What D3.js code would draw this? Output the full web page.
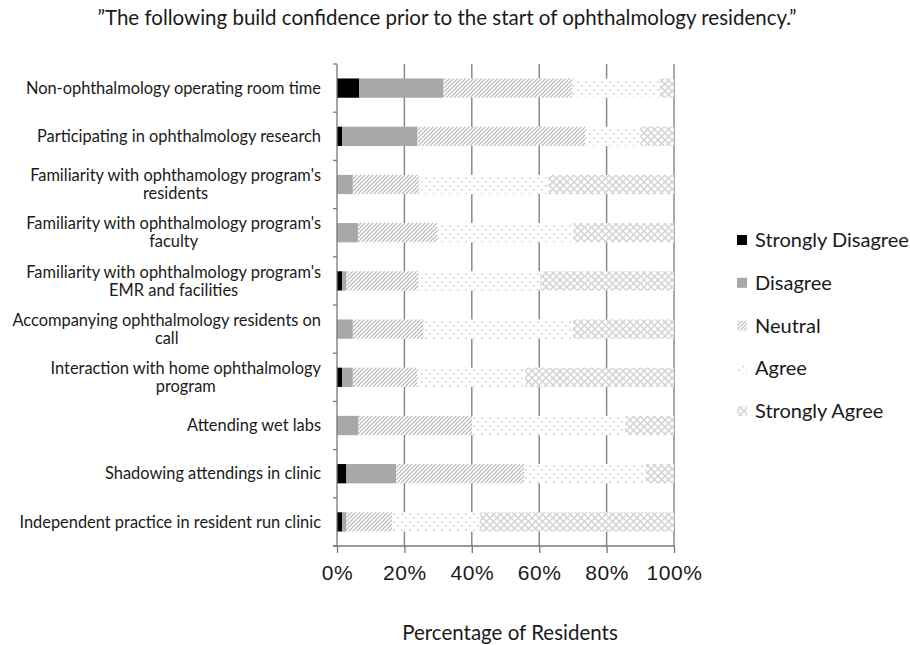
<!DOCTYPE html>
<html>
<head>
<meta charset="utf-8">
<script src="https://cdn.jsdelivr.net/npm/d3@7"></script>
<style>
  body { margin: 0; background: #fff; }
  svg { display: block; }
</style>
</head>
<body>
<div id="chart"></div>
<script>
const categories = [
    "Non-ophthalmology operating room time",
    "Participating in ophthalmology research",
    "Familiarity with ophthamology program's|residents",
    "Familiarity with ophthalmology program's|faculty",
    "Familiarity with ophthalmology program's|EMR and facilities",
    "Accompanying ophthalmology residents on|call",
    "Interaction with home ophthalmology|program",
    "Attending wet labs",
    "Shadowing attendings in clinic",
    "Independent practice in resident run clinic"
];
const responses = ["Strongly Disagree", "Disagree", "Neutral", "Agree", "Strongly Agree"];
const strongDisagree = [6.6, 1.5, 0, 0, 1.5, 0, 1.5, 0, 2.8, 1.5];
const disagree = [25.0, 22.4, 4.7, 6.2, 1.3, 4.7, 3.2, 6.4, 14.7, 1.3];
const neutral = [38.3, 49.7, 19.8, 23.6, 21.4, 21.0, 19.2, 33.6, 38.1, 13.5];
const agree = [25.9, 16.4, 38.2, 40.4, 36.1, 44.3, 31.9, 45.5, 36.1, 26.0];
const strongAgree = [4.2, 10.0, 37.3, 29.8, 39.7, 30.0, 44.2, 14.5, 8.3, 57.7];
const xTicks = [0, 20, 40, 60, 80, 100];

document.addEventListener('DOMContentLoaded', () => {
    const width = 910;
    const height = 645;
    const labelFont = 'Lato, "Open Sans", sans-serif';

    const svg = d3.select('#chart')
        .append('svg')
        .attr('width', width)
        .attr('height', height);

    // fill patterns
    const defs = svg.append('defs');

    const hatch = defs.append('pattern')
        .attr('id', 'neutral')
        .attr('patternUnits', 'userSpaceOnUse')
        .attr('width', 4)
        .attr('height', 4);
    hatch.append('rect').attr('width', 4).attr('height', 4).attr('fill', '#fff');
    hatch.append('path')
        .attr('d', 'M-1,1 l2,-2 M0,4 l4,-4 M3,5 l2,-2')
        .attr('stroke', '#b4b4b4')
        .attr('stroke-width', 1.1);

    const dots = defs.append('pattern')
        .attr('id', 'agree')
        .attr('patternUnits', 'userSpaceOnUse')
        .attr('width', 8)
        .attr('height', 8);
    dots.append('rect').attr('width', 8).attr('height', 8).attr('fill', '#fff');
    dots.append('circle').attr('cx', 2).attr('cy', 2).attr('r', 1).attr('fill', '#cfcfcf');
    dots.append('circle').attr('cx', 6).attr('cy', 6).attr('r', 1).attr('fill', '#cfcfcf');

    const cross = defs.append('pattern')
        .attr('id', 'strongAgree')
        .attr('patternUnits', 'userSpaceOnUse')
        .attr('width', 7)
        .attr('height', 7);
    cross.append('rect').attr('width', 7).attr('height', 7).attr('fill', '#fff');
    cross.append('path')
        .attr('d', 'M0,0 L7,7 M7,0 L0,7')
        .attr('stroke', '#d0d0d0')
        .attr('stroke-width', 1.3);

    const fills = {
        "Strongly Disagree": '#000',
        "Disagree": '#a8a8a8',
        "Neutral": 'url(#neutral)',
        "Agree": 'url(#agree)',
        "Strongly Agree": 'url(#strongAgree)'
    };

    const x = d3.scaleLinear()
        .domain([0, 100])
        .range([337, 674]);

    const y = d3.scaleBand()
        .domain(categories)
        .range([64, 546])
        .paddingInner(0.6)
        .paddingOuter(0.3);

    // title
    svg.append('text')
        .attr('x', 447)
        .attr('y', 25)
        .attr('text-anchor', 'middle')
        .style('font-family', labelFont)
        .style('font-size', '20.5px')
        .style('fill', '#1a1a1a')
        .text('\u201DThe following build confidence prior to the start of ophthalmology residency.\u201D');

    // gridlines
    svg.append('g')
        .selectAll('line')
        .data(xTicks.slice(1))
        .enter()
        .append('line')
        .attr('x1', d => x(d))
        .attr('x2', d => x(d))
        .attr('y1', 64)
        .attr('y2', 546)
        .attr('stroke', '#8a8a8a')
        .attr('stroke-width', 1.5);

    const rows = categories.map((c, i) => ({
        category: c,
        "Strongly Disagree": strongDisagree[i],
        "Disagree": disagree[i],
        "Neutral": neutral[i],
        "Agree": agree[i],
        "Strongly Agree": strongAgree[i]
    }));

    const series = d3.stack().keys(responses)(rows);

    svg.append('g')
        .selectAll('g')
        .data(series)
        .enter()
        .append('g')
        .attr('fill', d => fills[d.key])
        .selectAll('rect')
        .data(d => d)
        .enter()
        .append('rect')
        .attr('x', d => x(d[0]))
        .attr('y', d => y(d.data.category))
        .attr('width', d => x(d[1]) - x(d[0]))
        .attr('height', y.bandwidth());

    // left axis with ticks between categories
    const boundaries = d3.range(categories.length + 1).map(i => y.range()[0] + i * y.step());
    const leftAxis = svg.append('g').attr('stroke', '#777').attr('stroke-width', 1.3);
    leftAxis.append('line')
        .attr('x1', 337).attr('x2', 337)
        .attr('y1', 64).attr('y2', 546);
    leftAxis.selectAll('.tick')
        .data(boundaries)
        .enter()
        .append('line')
        .attr('x1', 333).attr('x2', 337)
        .attr('y1', d => d).attr('y2', d => d);

    // category labels, two-line ones centered under the first line
    const labels = svg.append('g')
        .style('font-family', labelFont)
        .style('font-size', '16.4px')
        .style('fill', '#1a1a1a');

    categories.forEach(c => {
        const lines = c.split('|');
        const cy = y(c) + y.bandwidth() / 2;
        if (lines.length === 1) {
            labels.append('text')
                .attr('x', 321)
                .attr('y', cy)
                .attr('dy', '0.35em')
                .attr('text-anchor', 'end')
                .text(lines[0]);
        } else {
            const first = labels.append('text')
                .attr('x', 321)
                .attr('y', cy - 9)
                .attr('dy', '0.35em')
                .attr('text-anchor', 'end')
                .text(lines[0]);
            const w = first.node().getComputedTextLength();
            labels.append('text')
                .attr('x', 321 - w / 2)
                .attr('y', cy + 9)
                .attr('dy', '0.35em')
                .attr('text-anchor', 'middle')
                .text(lines[1]);
        }
    });

    // bottom axis
    const xAxis = svg.append('g')
        .attr('transform', 'translate(0,546)')
        .call(d3.axisBottom(x)
            .tickValues(xTicks)
            .tickSize(7)
            .tickPadding(12)
            .tickFormat(d => d + '%'));
    xAxis.select('.domain').remove();
    xAxis.append('line')
        .attr('x1', 333).attr('x2', 674)
        .attr('stroke', '#777').attr('stroke-width', 1.3);
    xAxis.selectAll('.tick line').attr('stroke', '#777').attr('stroke-width', 1.3);
    xAxis.selectAll('.tick text')
        .style('font-family', '"Liberation Sans", Arial, sans-serif')
        .style('font-size', '21px')
        .style('letter-spacing', '0.6px')
        .style('fill', '#1a1a1a');

    svg.append('text')
        .attr('x', 510)
        .attr('y', 640)
        .attr('text-anchor', 'middle')
        .style('font-family', labelFont)
        .style('font-size', '20.5px')
        .style('fill', '#1a1a1a')
        .text('Percentage of Residents');

    // legend
    const legend = svg.append('g')
        .selectAll('g')
        .data(responses)
        .enter()
        .append('g')
        .attr('transform', (d, i) => `translate(737, ${240 + i * 42.8})`);

    legend.append('rect')
        .attr('x', 0)
        .attr('y', -5)
        .attr('width', 10)
        .attr('height', 10)
        .attr('fill', d => fills[d]);

    legend.append('text')
        .attr('x', 18)
        .attr('y', 0)
        .attr('dy', '0.35em')
        .style('font-family', labelFont)
        .style('font-size', '20px')
        .style('fill', '#1a1a1a')
        .text(d => d);
});
</script>
</body>
</html>
